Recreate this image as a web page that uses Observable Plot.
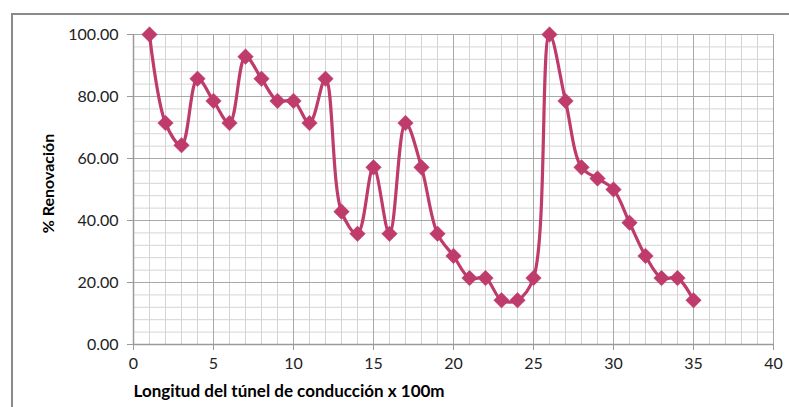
<!DOCTYPE html>
<html>
<head>
<meta charset="utf-8">
<script src="https://cdn.jsdelivr.net/npm/d3@7"></script>
<script src="https://cdn.jsdelivr.net/npm/@observablehq/plot@0.6"></script>
<style>
  html, body { margin: 0; padding: 0; background: #fff; }
  #wrap { position: relative; width: 789px; height: 407px; overflow: hidden; }
  #frame { position: absolute; left: 11px; top: 13px; width: 800px; height: 420px;
           border-left: 2px solid #8a8a8a; border-top: 2px solid #8a8a8a; }
  #chart { position: absolute; left: 0; top: 0; }
</style>
</head>
<body>
<div id="wrap"><div id="frame"></div><div id="chart"></div></div>
<script>
const distances = [1,2,3,4,5,6,7,8,9,10,11,12,13,14,15,16,17,18,19,20,21,22,23,24,25,26,27,28,29,30,31,32,33,34,35];
const renovation = [100.00,71.43,64.29,85.71,78.57,71.43,92.86,85.71,78.57,78.57,71.43,85.71,42.86,35.71,57.14,35.71,71.43,57.14,35.71,28.57,21.43,21.43,14.29,14.29,21.43,100.00,78.57,57.14,53.57,50.00,39.29,28.57,21.43,21.43,14.29];
const xTicks = [0,5,10,15,20,25,30,35,40];
const yTicks = [0,20,40,60,80,100];
const xMinor = d3.range(0, 41, 1);
const yMinor = d3.range(0, 101, 4);
const xTitle = "Longitud del túnel de conducción x 100m";
const yTitle = "% Renovación";

const data = distances.map((d, i) => ({x: d, y: renovation[i]}));
const color = "#BE3B6B";

const chart = Plot.plot({
  width: 789,
  height: 407,
  marginLeft: 133,
  marginRight: 16,
  marginTop: 34,
  marginBottom: 63,
  x: {domain: [0, 40]},
  y: {domain: [0, 100]},
  style: {fontFamily: "Lato, sans-serif", fontSize: "16px", color: "#222", background: "transparent"},
  marks: [
    Plot.ruleX(xMinor, {x: d => d, stroke: "#d4d4d4", strokeWidth: 1}),
    Plot.ruleY(yMinor, {y: d => d, stroke: "#d4d4d4", strokeWidth: 1}),
    Plot.ruleX(xTicks, {x: d => d, stroke: "#a8a8a8", strokeWidth: 1}),
    Plot.ruleY(yTicks, {y: d => d, stroke: "#a8a8a8", strokeWidth: 1}),
    Plot.ruleX([0], {stroke: "#9a9a9a", strokeWidth: 1.5}),
    Plot.ruleY([0], {stroke: "#9a9a9a", strokeWidth: 1.5}),
    Plot.axisY({ticks: yTicks, tickFormat: d => d.toFixed(2), tickSize: 6, tickPadding: 9, stroke: "#9a9a9a", label: null}),
    Plot.axisX({ticks: xTicks, tickFormat: d => String(d), tickSize: 6, tickPadding: 7, stroke: "#9a9a9a", label: null}),
    Plot.line(data, {x: "x", y: "y", stroke: color, strokeWidth: 3.2, curve: "catmull-rom"}),
    Plot.dot(data, {x: "x", y: "y", symbol: "diamond2", r: 7, fill: color, stroke: color, strokeWidth: 0.5}),
    Plot.text([xTitle], {frameAnchor: "bottom-left", text: d => d, dy: 52, dx: 0, textAnchor: "start", fontWeight: "bold", fontSize: 17, fill: "#000"}),
    Plot.text([yTitle], {frameAnchor: "left", text: d => d, rotate: -90, dx: -85, dy: -6, textAnchor: "middle", fontWeight: "bold", fontSize: 16, fill: "#000"})
  ]
});
document.getElementById("chart").appendChild(chart);
</script>
</body>
</html>
